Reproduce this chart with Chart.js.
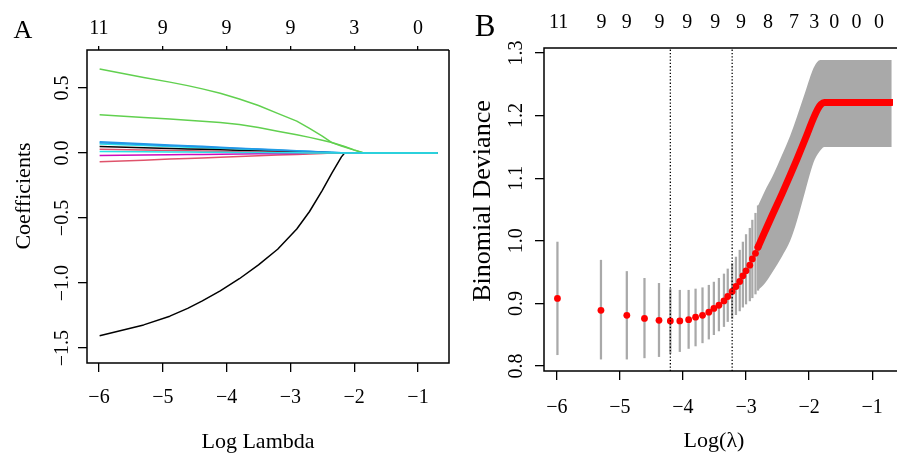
<!DOCTYPE html>
<html>
<head>
<meta charset="utf-8">
<script src="https://cdn.jsdelivr.net/npm/chart.js@4.4.1/dist/chart.umd.min.js"></script>
<style>
body { margin:0; background:#fff; overflow:hidden; }
#panelA { position:absolute; left:0; top:0; }
#panelB { position:absolute; left:450px; top:0; }
</style>
</head>
<body>
<canvas id="panelA" width="450" height="454"></canvas>
<canvas id="panelB" width="447" height="454"></canvas>
<script>
// ---- panel A : lasso coefficient paths ----
var logLambdaA = [-5.99, -5.30, -4.89, -4.61, -4.38, -4.1, -3.8, -3.5, -3.2, -2.9, -2.7, -2.5, -2.35, -2.2, -2.15, -2.0, -1.85, -0.69];
var coef1  = [-1.405, -1.322, -1.255, -1.195, -1.137, -1.06, -0.967, -0.86, -0.74, -0.585, -0.45, -0.287, -0.155, -0.03, 0, 0, 0, 0];
var coef2  = [-0.067, -0.055, -0.047, -0.042, -0.038, -0.033, -0.027, -0.022, -0.016, -0.011, -0.007, -0.004, -0.001, 0, 0, 0, 0, 0];
var coef3  = [0.646, 0.580, 0.545, 0.518, 0.493, 0.46, 0.415, 0.365, 0.305, 0.245, 0.19, 0.13, 0.08, 0.054, 0.046, 0.022, 0, 0];
var coef4  = [0.087, 0.071, 0.062, 0.056, 0.051, 0.044, 0.037, 0.031, 0.024, 0.017, 0.013, 0.008, 0.005, 0.001, 0, 0, 0, 0];
var coef5  = [0.07, 0.057, 0.05, 0.045, 0.04, 0.035, 0.03, 0.024, 0.019, 0.013, 0.009, 0.006, 0.003, 0, 0, 0, 0, 0];
var coef6  = [-0.02, -0.016, -0.014, -0.012, -0.011, -0.01, -0.008, -0.006, -0.005, -0.003, -0.002, -0.001, 0, 0, 0, 0, 0, 0];
var coef7  = [0.05, 0.041, 0.035, 0.031, 0.028, 0.024, 0.02, 0.016, 0.012, 0.008, 0.005, 0.003, 0.001, 0, 0, 0, 0, 0];
var coef8  = [0.028, 0.023, 0.019, 0.017, 0.015, 0.013, 0.01, 0.008, 0.006, 0.003, 0.002, 0, 0, 0, 0, 0, 0, 0];
var coef9  = [0.295, 0.273, 0.262, 0.252, 0.245, 0.234, 0.219, 0.196, 0.168, 0.14, 0.12, 0.098, 0.08, 0.058, 0.05, 0.024, 0, 0];
var coef10 = [0.079, 0.065, 0.056, 0.051, 0.046, 0.04, 0.034, 0.028, 0.022, 0.015, 0.011, 0.007, 0.004, 0.001, 0, 0, 0, 0];
var coef11 = [0.012, 0.01, 0.008, 0.007, 0.006, 0.005, 0.004, 0.003, 0.002, 0.001, 0, 0, 0, 0, 0, 0, 0, 0];
var xTicksA = [-6, -5, -4, -3, -2, -1];
var yTicksA = [-1.5, -1.0, -0.5, 0, 0.5];
var dfLabelsA = ["11", "9", "9", "9", "3", "0"];

// ---- panel B : cross validation ----
var cvLogLambda = [-5.99, -5.30, -4.89, -4.61, -4.38, -4.20, -4.05, -3.91, -3.80, -3.69, -3.59, -3.51, -3.43, -3.35, -3.29, -3.22, -3.16, -3.10, -3.05, -3.00, -2.94, -2.90, -2.85, -2.81];
var cvMean  = [0.908, 0.889, 0.881, 0.876, 0.873, 0.872, 0.872, 0.874, 0.878, 0.881, 0.886, 0.892, 0.897, 0.904, 0.911, 0.919, 0.927, 0.935, 0.944, 0.952, 0.961, 0.971, 0.980, 0.990];
var cvLower = [0.818, 0.811, 0.811, 0.813, 0.815, 0.820, 0.823, 0.828, 0.832, 0.837, 0.843, 0.850, 0.856, 0.863, 0.871, 0.876, 0.882, 0.888, 0.894, 0.899, 0.904, 0.909, 0.915, 0.921];
var cvUpper = [0.998, 0.969, 0.951, 0.940, 0.932, 0.923, 0.921, 0.921, 0.923, 0.925, 0.929, 0.934, 0.940, 0.947, 0.955, 0.964, 0.974, 0.985, 0.998, 1.010, 1.020, 1.033, 1.044, 1.056];
var denseLogLambda = [-2.81, -2.70, -2.58, -2.43, -2.30, -2.19, -2.06, -1.93, -1.86, -1.81, -1.76, -0.69];
var denseMean  = [0.990, 1.015, 1.042, 1.075, 1.105, 1.131, 1.163, 1.196, 1.211, 1.218, 1.221, 1.221];
var denseUpper = [1.056, 1.080, 1.103, 1.137, 1.168, 1.199, 1.238, 1.276, 1.287, 1.289, 1.289, 1.289];
var denseLower = [0.921, 0.932, 0.950, 0.975, 1.000, 1.033, 1.080, 1.125, 1.139, 1.146, 1.150, 1.150];
var lambdaMin = -4.20;
var lambda1se = -3.22;
var xTicksB = [-6, -5, -4, -3, -2, -1];
var yTicksB = [0.8, 0.9, 1.0, 1.1, 1.2, 1.3];
var cvTopPos = [-5.97, -5.29, -4.89, -4.37, -3.93, -3.49, -3.08, -2.65, -2.24, -1.92, -1.60, -1.25, -0.89];
var cvTopLab = ["11", "9", "9", "9", "9", "9", "9", "8", "7", "3", "0", "0", "0"];

var pathColours = ["#000000", "#DF536B", "#61D04F", "#2297E6", "#28E2E5", "#CD0BBC", "#000000", "#DF536B", "#61D04F", "#2297E6", "#28E2E5"];
var serif = "'Liberation Serif', 'Times New Roman', serif";

function minusNum(v)
{
	return (v < 0 ? "\u2212" : "") + Math.abs(v);
}
function minusDec(v)
{
	return (v < 0 ? "\u2212" : "") + Math.abs(v).toFixed(1);
}
function pts(xs, ys)
{
	return ys.map(function(v, j) { return {x: xs[j], y: v}; });
}
function fixedTicks(list)
{
	return function(s) { s.ticks = list.map(function(v) { return {value: v}; }); };
}

// box round the plot region plus panel letter and axis titles
var framePlugin = {
	id: "frame",
	afterDatasetsDraw: function(chart, args, opts)
	{
		var a = chart.chartArea;
		var ctx = chart.ctx;
		ctx.save();
		ctx.strokeStyle = "#000";
		ctx.lineWidth = 1.5;
		ctx.beginPath();
		ctx.moveTo(a.right + (opts.openRight ? 5 : 0), a.top);
		ctx.lineTo(a.left, a.top);
		ctx.lineTo(a.left, a.bottom);
		ctx.lineTo(a.right + (opts.openRight ? 5 : 0), a.bottom);
		if (!opts.openRight) ctx.lineTo(a.right, a.top);
		ctx.stroke();
		ctx.fillStyle = "#000";
		ctx.textAlign = "center";
		ctx.textBaseline = "alphabetic";
		for (var i = 0; i < opts.texts.length; i++)
		{
			var t = opts.texts[i];
			ctx.save();
			ctx.font = t.size + "px " + serif;
			ctx.translate(t.x, t.y);
			if (t.rot) ctx.rotate(-Math.PI / 2);
			ctx.fillText(t.text, 0, 0);
			ctx.restore();
		}
		ctx.restore();
	}
};

var tickFont = {family: serif, size: 20};

// ---------- chart A ----------
var pathsA = [coef1, coef2, coef3, coef4, coef5, coef6, coef7, coef8, coef9, coef10, coef11];
var datasetsA = [];
for (var i = 0; i < pathsA.length; i++)
{
	datasetsA.push({
		type: "line",
		data: pts(logLambdaA, pathsA[i]),
		borderColor: pathColours[i],
		borderWidth: 1.5,
		pointRadius: 0,
		tension: 0,
		borderJoinStyle: "round",
		fill: false,
		order: pathsA.length - i,
		xAxisID: "x",
		yAxisID: "y"
	});
}

new Chart(document.getElementById("panelA"), {
	type: "line",
	data: { datasets: datasetsA },
	plugins: [framePlugin],
	options: {
		responsive: false,
		animation: false,
		events: [],
		layout: { padding: { left: 0, right: 1, top: 0, bottom: 0 } },
		plugins: {
			legend: { display: false },
			tooltip: { enabled: false },
			frame: {
				openRight: false,
				texts: [
					{ text: "A", x: 23, y: 37.7, size: 26 },
					{ text: "Log Lambda", x: 258, y: 448, size: 22 },
					{ text: "Coefficients", x: 29.5, y: 196, size: 22, rot: true }
				]
			}
		},
		scales: {
			x: {
				type: "linear", axis: "x", position: "bottom", min: -6.188, max: -0.514, bounds: "data", offset: false,
				afterBuildTicks: fixedTicks(xTicksA),
				ticks: { autoSkip: false, maxRotation: 0, padding: 13.5, font: tickFont, color: "#000", callback: minusNum },
				grid: { display: true, drawOnChartArea: false, drawTicks: true, tickLength: 9, color: "#000", lineWidth: 1.3, offset: false },
				border: { display: false },
				afterFit: function(s) { s.height = 91; s.paddingLeft = 0; s.paddingRight = 0; }
			},
			xTop: {
				type: "linear", axis: "x", position: "top", min: -6.188, max: -0.514, bounds: "data", offset: false,
				afterBuildTicks: fixedTicks(xTicksA),
				ticks: { autoSkip: false, maxRotation: 0, padding: 5.5, font: tickFont, color: "#000", callback: function(v, idx) { return dfLabelsA[idx]; } },
				grid: { display: true, drawOnChartArea: false, drawTicks: true, tickLength: 4, color: "#000", lineWidth: 1.3, offset: false },
				border: { display: false },
				afterFit: function(s) { s.height = 50; s.paddingLeft = 0; s.paddingRight = 0; }
			},
			y: {
				type: "linear", position: "left", min: -1.615, max: 0.792, bounds: "data",
				afterBuildTicks: fixedTicks(yTicksA),
				ticks: { minRotation: 90, maxRotation: 90, crossAlign: "center", padding: -2.6, font: tickFont, color: "#000", callback: minusDec },
				grid: { display: true, drawOnChartArea: false, drawTicks: true, tickLength: 9, color: "#000", lineWidth: 1.3 },
				border: { display: false },
				afterFit: function(s) { s.width = 87; s.paddingTop = 0; s.paddingBottom = 0; }
			}
		}
	}
});

// ---------- chart B ----------
var barData = [];
for (var k = 0; k < cvLogLambda.length; k++)
{
	barData.push({x: cvLogLambda[k], y: [cvLower[k], cvUpper[k]]});
}

var datasetsB = [
	{ type: "line", data: [{x: lambdaMin, y: 0.792}, {x: lambdaMin, y: 1.308}], borderColor: "#000", borderWidth: 1.3, borderDash: [1.3, 2], pointRadius: 0, order: 0, xAxisID: "x", yAxisID: "y" },
	{ type: "line", data: [{x: lambda1se, y: 0.792}, {x: lambda1se, y: 1.308}], borderColor: "#000", borderWidth: 1.3, borderDash: [1.3, 2], pointRadius: 0, order: 0, xAxisID: "x", yAxisID: "y" },
	{ type: "line", data: pts(cvLogLambda, cvMean), showLine: false, pointRadius: 3.4, pointBackgroundColor: "#FF0000", pointBorderWidth: 0, order: 1, xAxisID: "x", yAxisID: "y" },
	{ type: "line", data: pts(denseLogLambda, denseMean), borderColor: "#FF0000", borderWidth: 7, borderJoinStyle: "round", borderCapStyle: "round", pointRadius: 0, cubicInterpolationMode: "monotone", order: 2, xAxisID: "x", yAxisID: "y" },
	{ type: "line", data: pts(denseLogLambda, denseUpper), borderWidth: 0, borderColor: "rgba(0,0,0,0)", pointRadius: 0, cubicInterpolationMode: "monotone", fill: false, order: 4, xAxisID: "x", yAxisID: "y" },
	{ type: "line", data: pts(denseLogLambda, denseLower), borderWidth: 0, borderColor: "rgba(0,0,0,0)", backgroundColor: "#A9A9A9", pointRadius: 0, cubicInterpolationMode: "monotone", fill: "-1", order: 3, xAxisID: "x", yAxisID: "y" },
	{ type: "bar", data: barData, backgroundColor: "#A9A9A9", borderWidth: 0, barThickness: 1.6, order: 5, xAxisID: "x", yAxisID: "y" }
];

new Chart(document.getElementById("panelB"), {
	type: "line",
	data: { datasets: datasetsB },
	plugins: [framePlugin],
	options: {
		responsive: false,
		animation: false,
		events: [],
		layout: { padding: 0 },
		plugins: {
			legend: { display: false },
			tooltip: { enabled: false },
			frame: {
				openRight: true,
				texts: [
					{ text: "B", x: 35, y: 36, size: 31 },
					{ text: "Log(\u03bb)", x: 264, y: 447, size: 22 },
					{ text: "Binomial Deviance", x: 40, y: 201, size: 26, rot: true }
				]
			}
		},
		scales: {
			x: {
				type: "linear", axis: "x", position: "bottom", min: -6.203, max: -0.67, bounds: "data", offset: false,
				afterBuildTicks: fixedTicks(xTicksB),
				ticks: { autoSkip: false, maxRotation: 0, padding: 15.5, font: tickFont, color: "#000", callback: minusNum },
				grid: { display: true, drawOnChartArea: false, drawTicks: true, tickLength: 9, color: "#000", lineWidth: 1.3, offset: false },
				border: { display: false },
				afterFit: function(s) { s.height = 83; s.paddingLeft = 0; s.paddingRight = 0; }
			},
			xTop: {
				type: "linear", axis: "x", position: "top", min: -6.203, max: -0.67, bounds: "data", offset: false,
				afterBuildTicks: fixedTicks(cvTopPos),
				ticks: { autoSkip: false, maxRotation: 0, padding: 12.8, font: tickFont, color: "#000", callback: function(v, idx) { return cvTopLab[idx]; } },
				grid: { display: false, drawTicks: false, offset: false },
				border: { display: false },
				afterFit: function(s) { s.height = 48; s.paddingLeft = 0; s.paddingRight = 0; }
			},
			y: {
				type: "linear", position: "left", min: 0.792, max: 1.308, bounds: "data",
				afterBuildTicks: fixedTicks(yTicksB),
				ticks: { minRotation: 90, maxRotation: 90, crossAlign: "center", padding: 5.5, font: tickFont, color: "#000", callback: minusDec },
				grid: { display: true, drawOnChartArea: false, drawTicks: true, tickLength: 9, color: "#000", lineWidth: 1.3 },
				border: { display: false },
				afterFit: function(s) { s.width = 94; s.paddingTop = 0; s.paddingBottom = 0; }
			}
		}
	}
});
</script>
</body>
</html>
